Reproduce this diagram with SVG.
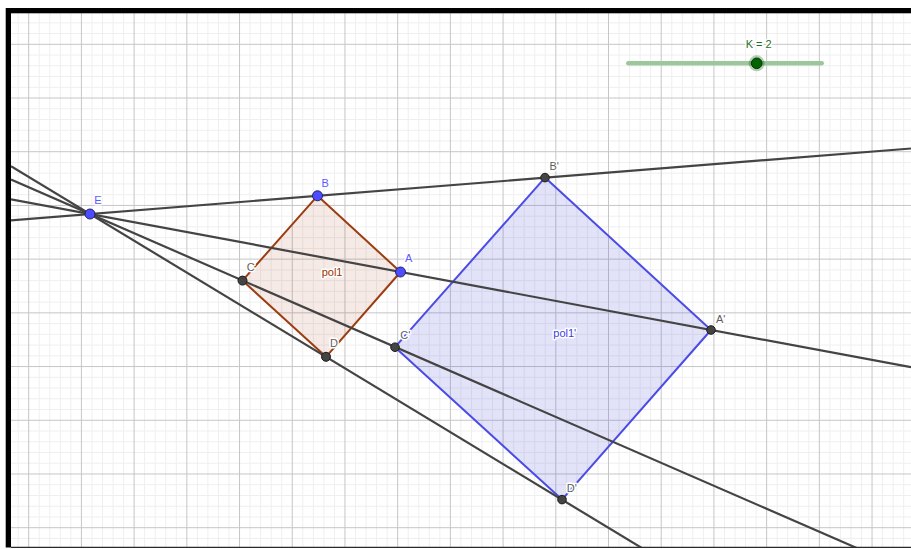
<svg xmlns="http://www.w3.org/2000/svg" width="911" height="549" viewBox="0 0 911 549">
<defs>
<style>
.minor{stroke:#efefef;stroke-width:1;fill:none}
.major{stroke:#c6c6c6;stroke-width:1;fill:none}
.ln{stroke:#444;stroke-width:2.2;fill:none;stroke-linecap:butt}
.free{fill:#4d4dff;stroke:#222266;stroke-width:1}
.dep{fill:#444;stroke:#1c1c1c;stroke-width:1}
.lbl{font-family:"Liberation Sans",Arial,sans-serif;font-size:11px;paint-order:stroke;stroke:#fff;stroke-width:3;stroke-linejoin:round}
.lf{fill:#5a5aff}
.ld{fill:#5e5e5e}
</style>
<clipPath id="plot"><rect x="11" y="13" width="900" height="534"/></clipPath>
</defs>
<rect x="0" y="0" width="911" height="549" fill="#fff"/>
<g id="grid" clip-path="url(#plot)">
<path class="minor" d="M18.16 13V547M39.24 13V547M49.78 13V547M60.33 13V547M70.87 13V547M91.95 13V547M102.49 13V547M113.04 13V547M123.58 13V547M144.66 13V547M155.2 13V547M165.75 13V547M176.29 13V547M197.37 13V547M207.91 13V547M218.46 13V547M229 13V547M250.08 13V547M260.62 13V547M271.17 13V547M281.71 13V547M302.79 13V547M313.33 13V547M323.88 13V547M334.42 13V547M355.5 13V547M366.04 13V547M376.59 13V547M387.13 13V547M408.21 13V547M418.75 13V547M429.3 13V547M439.84 13V547M460.92 13V547M471.46 13V547M482.01 13V547M492.55 13V547M513.63 13V547M524.17 13V547M534.72 13V547M545.26 13V547M566.34 13V547M576.88 13V547M587.43 13V547M597.97 13V547M619.05 13V547M629.59 13V547M640.14 13V547M650.68 13V547M671.76 13V547M682.3 13V547M692.85 13V547M703.39 13V547M724.47 13V547M735.01 13V547M745.56 13V547M756.1 13V547M777.18 13V547M787.72 13V547M798.27 13V547M808.81 13V547M829.89 13V547M840.43 13V547M850.98 13V547M861.52 13V547M882.6 13V547M893.14 13V547M903.69 13V547
M11 22.82H911M11 33.56H911M11 55.04H911M11 65.78H911M11 76.53H911M11 87.27H911M11 108.75H911M11 119.49H911M11 130.24H911M11 140.98H911M11 162.46H911M11 173.2H911M11 183.95H911M11 194.69H911M11 216.17H911M11 226.91H911M11 237.66H911M11 248.4H911M11 269.88H911M11 280.62H911M11 291.37H911M11 302.11H911M11 323.59H911M11 334.33H911M11 345.08H911M11 355.82H911M11 377.3H911M11 388.04H911M11 398.79H911M11 409.53H911M11 431.01H911M11 441.75H911M11 452.5H911M11 463.24H911M11 484.72H911M11 495.46H911M11 506.21H911M11 516.95H911M11 538.43H911"/>
<path class="major" d="M28.7 13V547M81.41 13V547M134.12 13V547M186.83 13V547M239.54 13V547M292.25 13V547M344.96 13V547M397.67 13V547M450.38 13V547M503.09 13V547M555.8 13V547M608.51 13V547M661.22 13V547M713.93 13V547M766.64 13V547M819.35 13V547M872.06 13V547
M11 44.3H911M11 98.01H911M11 151.72H911M11 205.43H911M11 259.14H911M11 312.85H911M11 366.56H911M11 420.27H911M11 473.98H911M11 527.69H911"/>
</g>
<g id="frame">
<rect x="6" y="8" width="905" height="5.3" fill="#000"/>
<rect x="5.7" y="8" width="5.3" height="539.5" fill="#000"/>
<line x1="11" y1="547.4" x2="911" y2="547.4" stroke="#2a2a2a" stroke-width="1.3"/>
</g>
<g id="pol1">
<polygon points="400.5,272 317.5,195.8 242.5,280.6 326,356.8" fill="#993300" fill-opacity="0.1" stroke="#9c3d10" stroke-width="2" stroke-linejoin="round"/>
<text class="lbl" x="321.7" y="276" fill="#993300">pol1</text>
</g>
<g id="pol1prime">
<polygon points="711,330 545,177.6 395,347.2 562,499.6" fill="#4d4dd8" fill-opacity="0.16" stroke="#4b4be6" stroke-width="2" stroke-linejoin="round"/>
<text class="lbl" x="553.3" y="337.3" fill="#3c3ce0">pol1'</text>
</g>
<g id="connectors" clip-path="url(#plot)">
<line class="ln" x1="11" y1="220.3" x2="911" y2="148.5"/>
<line class="ln" x1="11" y1="199.26" x2="911" y2="367.2"/>
<line class="ln" x1="11" y1="179.6" x2="859" y2="549"/>
<line class="ln" x1="11" y1="166.2" x2="643.5" y2="549"/>
</g>
<g id="slider-K">
<line x1="628.3" y1="63.3" x2="821.7" y2="63.3" stroke="#9cc79c" stroke-width="4.5" stroke-linecap="round"/>
<circle cx="756.7" cy="63.3" r="8" fill="#006400" fill-opacity="0.3"/>
<circle cx="756.7" cy="63.3" r="5.3" fill="#006400" stroke="#0a2a0a" stroke-width="1"/>
<text class="lbl" x="745.7" y="48" fill="#1f6f1f">K = 2</text>
</g>
<g id="E"><circle class="free" cx="90" cy="214" r="5"/><text class="lbl lf" x="94.3" y="204">E</text></g>
<g id="B"><circle class="free" cx="317.5" cy="195.8" r="5"/><text class="lbl lf" x="321.5" y="186.5">B</text></g>
<g id="A"><circle class="free" cx="400.5" cy="272" r="5"/><text class="lbl lf" x="405" y="262">A</text></g>
<g id="C"><circle class="dep" cx="242.5" cy="280.6" r="4.5"/><text class="lbl ld" x="246.7" y="270.7">C</text></g>
<g id="D"><circle class="dep" cx="326" cy="356.8" r="4.5"/><text class="lbl ld" x="330" y="346.7">D</text></g>
<g id="Bprime"><circle class="dep" cx="545" cy="177.6" r="4.3"/><text class="lbl ld" x="549.5" y="170">B'</text></g>
<g id="Aprime"><circle class="dep" cx="711" cy="330" r="4.3"/><text class="lbl ld" x="716" y="323">A'</text></g>
<g id="Cprime"><circle class="dep" cx="395" cy="347.2" r="4.3"/><text class="lbl ld" x="400.3" y="339">C'</text></g>
<g id="Dprime"><circle class="dep" cx="562" cy="499.6" r="4.3"/><text class="lbl ld" x="566.7" y="492">D'</text></g>
</svg>
